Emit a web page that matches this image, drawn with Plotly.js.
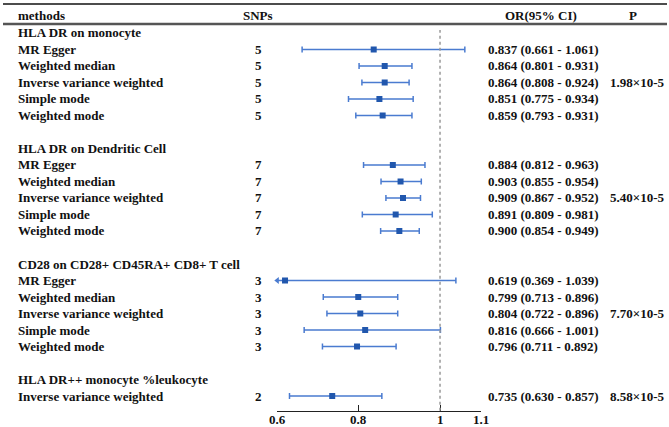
<!DOCTYPE html>
<html>
<head>
<meta charset="utf-8">
<script src="https://cdn.plot.ly/plotly-3.0.1.min.js"></script>
<style>
  html, body { margin: 0; padding: 0; background: #fff; }
  #graph { width: 669px; height: 427px; }
</style>
</head>
<body>
<div id="graph"></div>
<script>
// exposures (one block each) and the P value printed on its IVW row
var exposures = ["HLA DR on monocyte", "HLA DR on Dendritic Cell",
  "CD28 on CD28+ CD45RA+ CD8+ T cell", "HLA DR++ monocyte %leukocyte"];
var groupP = ["1.98×10-5", "5.40×10-5", "7.70×10-5", "8.58×10-5"];

// one entry per MR estimate
var rowGroup = [0, 0, 0, 0, 0, 1, 1, 1, 1, 1, 2, 2, 2, 2, 2, 3];
var methodNames = ["MR Egger", "Weighted median", "Inverse variance weighted", "Simple mode", "Weighted mode",
  "MR Egger", "Weighted median", "Inverse variance weighted", "Simple mode", "Weighted mode",
  "MR Egger", "Weighted median", "Inverse variance weighted", "Simple mode", "Weighted mode",
  "Inverse variance weighted"];
var snps = [5, 5, 5, 5, 5, 7, 7, 7, 7, 7, 3, 3, 3, 3, 3, 2];
var orVals = [0.837, 0.864, 0.864, 0.851, 0.859, 0.884, 0.903, 0.909, 0.891, 0.900,
  0.619, 0.799, 0.804, 0.816, 0.796, 0.735];
var ciLow = [0.661, 0.801, 0.808, 0.775, 0.793, 0.812, 0.855, 0.867, 0.809, 0.854,
  0.369, 0.713, 0.722, 0.666, 0.711, 0.630];
var ciHigh = [1.061, 0.931, 0.924, 0.934, 0.931, 0.963, 0.954, 0.952, 0.981, 0.949,
  1.039, 0.896, 0.896, 1.001, 0.892, 0.857];

var xTicks = [0.6, 0.8, 1, 1.1];
var xMin = 0.6, xMax = 1.1;

var W = 669, H = 427;
function px(x) { return x / W; }
function py(y) { return 1 - y / H; }

var font = {family: "Liberation Serif, Times New Roman, serif", size: 13, color: "#111", weight: "bold"};
var lineBlue = "#4a7bd0";
var markBlue = "#2157ad";

// assign row positions: title row, method rows, blank row
var rowY = [], titleY = [], k = 0;
exposures.forEach(function(name, g) {
  titleY[g] = k; k++;
  rowGroup.forEach(function(gg, i) { if (gg === g) { rowY[i] = k; k++; } });
  k++;
});

var ann = [];
function addText(text, x, y, anchor, yref) {
  ann.push({text: text, x: px(x), xref: "paper", y: y, yref: yref || "y",
    xanchor: anchor, yanchor: "middle", showarrow: false, font: font});
}

// header
addText("methods", 16, py(15), "left", "paper");
addText("SNPs", 258, py(15), "center", "paper");
addText("OR(95% CI)", 541, py(15), "center", "paper");
addText("P", 633, py(15), "center", "paper");

exposures.forEach(function(name, g) { addText(name, 16, titleY[g], "left"); });
methodNames.forEach(function(m, i) {
  addText(m, 16, rowY[i], "left");
  addText(String(snps[i]), 258, rowY[i], "center");
  addText(orVals[i].toFixed(3) + " (" + ciLow[i].toFixed(3) + " - " + ciHigh[i].toFixed(3) + ")",
    486, rowY[i], "left");
  if (m === "Inverse variance weighted") addText(groupP[rowGroup[i]], 608, rowY[i], "left");
});

// x tick labels sit a little tighter under the axis than plotly's default
xTicks.forEach(function(t) {
  ann.push({text: String(t), x: t, xref: "x", y: py(419), yref: "paper",
    xanchor: "center", yanchor: "middle", showarrow: false, font: font});
});

var estimates = {
  x: orVals, y: rowY, type: "scatter", mode: "markers",
  marker: {symbol: "square", size: 6, color: markBlue},
  error_x: {type: "data", symmetric: false,
    array: orVals.map(function(v, i) { return ciHigh[i] - v; }),
    arrayminus: orVals.map(function(v, i) { return v - ciLow[i]; }),
    color: lineBlue, thickness: 1.5, width: 3},
  hoverinfo: "skip", showlegend: false
};

// arrows where the interval runs past the left edge of the axis
var clipped = ciLow.map(function(v, i) { return v < xMin ? i : -1; }).filter(function(i) { return i >= 0; });
var arrows = {
  x: clipped.map(function() { return xMin; }), y: clipped.map(function(i) { return rowY[i]; }),
  type: "scatter", mode: "markers", cliponaxis: false,
  marker: {symbol: "triangle-left", size: 6, color: lineBlue},
  hoverinfo: "skip", showlegend: false
};

var yBottom = (410.7 - 33) / 16.5, yTop = (24 - 33) / 16.5;

var layout = {
  width: W, height: H,
  margin: {l: 0, r: 0, t: 0, b: 0},
  paper_bgcolor: "#fff", plot_bgcolor: "#fff",
  showlegend: false,
  xaxis: {domain: [px(277.3), px(480.7)], range: [xMin, xMax],
    tickvals: xTicks, showticklabels: false,
    showgrid: false, zeroline: false, showline: true, linecolor: "#222", linewidth: 1,
    ticks: "inside", ticklen: 6, tickcolor: "#222"},
  yaxis: {domain: [py(410.7), py(24)], range: [yBottom, yTop], visible: false,
    showgrid: false, zeroline: false},
  annotations: ann,
  shapes: [
    {type: "line", xref: "paper", yref: "paper", x0: px(3), x1: px(667), y0: py(4), y1: py(4),
      line: {color: "#111", width: 1.5}},
    {type: "line", xref: "paper", yref: "paper", x0: px(3), x1: px(667), y0: py(24), y1: py(24),
      line: {color: "#555", width: 2.5}},
    {type: "line", xref: "x", yref: "paper", x0: 1, x1: 1, y0: py(410.7), y1: py(30),
      line: {color: "#999", width: 1.5, dash: "dot"}}
  ]
};

Plotly.newPlot("graph", [estimates, arrows], layout, {staticPlot: true});
</script>
</body>
</html>
